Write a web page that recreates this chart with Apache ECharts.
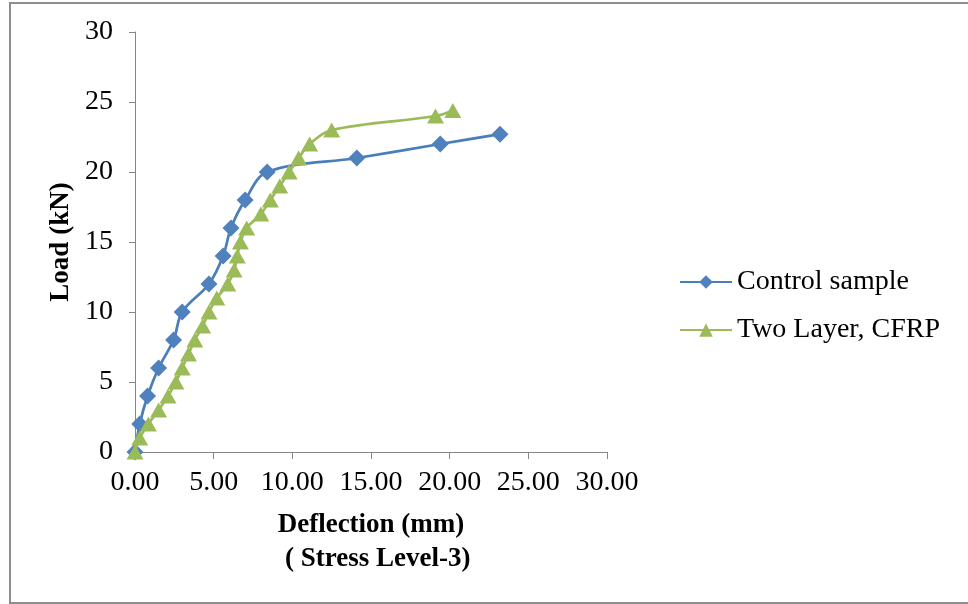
<!DOCTYPE html>
<html>
<head>
<meta charset="utf-8">
<script src="https://cdn.jsdelivr.net/npm/echarts@6/dist/echarts.min.js"></script>
<style>
  html, body { margin: 0; padding: 0; background: #ffffff; }
  #chart { width: 968px; height: 604px; }
</style>
</head>
<body>
<div id="chart"></div>
<script>
// Load–deflection readings, stress level 3
const controlDeflection = [0, 0.3, 0.8, 1.5, 2.45, 3.0, 4.7, 5.6, 6.1, 7.0, 8.4, 14.1, 19.4, 23.2];
const controlLoad       = [0, 2, 4, 6, 8, 10, 12, 14, 16, 18, 20, 21, 22, 22.7];

const cfrpDeflection = [0, 0.3, 0.85, 1.5, 2.1, 2.6, 3.0, 3.4, 3.8, 4.3, 4.7, 5.2, 5.9, 6.3, 6.5, 6.7, 7.1, 8.0, 8.6, 9.2, 9.8, 10.4, 11.1, 12.5, 19.1, 20.2];
const cfrpLoad       = [0, 1, 2, 3, 4, 5, 6, 7, 8, 9, 10, 11, 12, 13, 14, 15, 16, 17, 18, 19, 20, 21, 22, 23, 24, 24.4];

const seriesNames = ['Control sample', 'Two Layer, CFRP'];
const xTitle = 'Deflection (mm)\n  ( Stress Level-3)';
const yTitle = 'Load (kN)';

const pairs = (xs, ys) => xs.map((x, i) => [x, ys[i]]);

const serif = '"Liberation Serif", "Times New Roman", serif';
const axisGrey = '#868686';

const chart = echarts.init(document.getElementById('chart'), null, { renderer: 'canvas' });

chart.setOption({
  backgroundColor: '#ffffff',
  animation: false,
  graphic: [{
    type: 'rect',
    shape: { x: 10, y: 3, width: 980, height: 600 },
    style: { fill: 'none', stroke: '#8e8e8e', lineWidth: 2 },
    silent: true
  }],
  grid: { left: 135, right: 361, top: 32, bottom: 152, containLabel: false },
  legend: {
    orient: 'vertical',
    left: 674,
    top: 263,
    itemWidth: 52,
    itemHeight: 17,
    itemGap: 20,
    textStyle: { fontFamily: serif, fontSize: 28, color: '#000000', padding: [0, 0, 0, 0] },
    data: seriesNames
  },
  xAxis: {
    type: 'value',
    min: 0,
    max: 30,
    interval: 5,
    name: xTitle,
    nameLocation: 'middle',
    nameGap: 56,
    nameTextStyle: { fontFamily: serif, fontSize: 27, fontWeight: 'bold', color: '#000000', lineHeight: 34, verticalAlign: 'top' },
    axisLine: { show: true, lineStyle: { color: axisGrey, width: 1 } },
    axisTick: { show: true, inside: false, length: 7, lineStyle: { color: axisGrey } },
    splitLine: { show: false },
    axisLabel: {
      fontFamily: serif, fontSize: 28, color: '#000000', margin: 17,
      formatter: v => v.toFixed(2)
    }
  },
  yAxis: {
    type: 'value',
    min: 0,
    max: 30,
    interval: 5,
    name: yTitle,
    nameLocation: 'middle',
    nameGap: 60,
    nameRotate: 90,
    nameTextStyle: { fontFamily: serif, fontSize: 27, fontWeight: 'bold', color: '#000000' },
    axisLine: { show: true, lineStyle: { color: axisGrey, width: 1 } },
    axisTick: { show: true, inside: false, length: 6, lineStyle: { color: axisGrey } },
    splitLine: { show: false },
    axisLabel: { fontFamily: serif, fontSize: 28, color: '#000000', margin: 22 }
  },
  series: [
    {
      name: seriesNames[0],
      type: 'line',
      data: pairs(controlDeflection, controlLoad),
      smooth: 0.35,
      symbol: 'diamond',
      symbolSize: [17, 17],
      lineStyle: { color: '#4A7EBB', width: 2.75 },
      itemStyle: { color: '#4F81BD' },
      z: 3
    },
    {
      name: seriesNames[1],
      type: 'line',
      data: pairs(cfrpDeflection, cfrpLoad),
      smooth: 0.35,
      symbol: 'triangle',
      symbolSize: [17, 15],
      lineStyle: { color: '#9BBB59', width: 2.75 },
      itemStyle: { color: '#9BBB59' },
      z: 4
    }
  ]
});
</script>
</body>
</html>
